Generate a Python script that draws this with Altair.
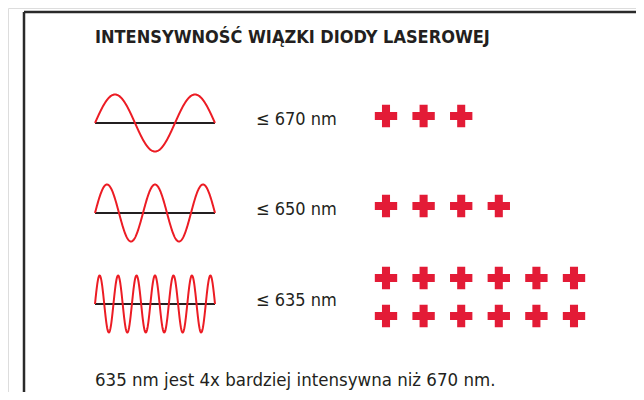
import altair as alt
import numpy as np
import pandas as pd

# ---- data ----
title_text = "INTENSYWNOŚĆ WIĄZKI DIODY LASEROWEJ"
footnote_text = "635 nm jest 4x bardziej intensywna niż 670 nm."
labels = ["≤ 670 nm", "≤ 650 nm", "≤ 635 nm"]
wave_cycles = [1.5, 2.5, 6.5]
plus_counts = [3, 4, 12]

# ---- layout (image pixel coordinates) ----
X0, X1, Y0, Y1 = 8, 636, 8, 392
row_y = [123, 213, 304]
wave_x0, wave_x1, amp = 95, 215, 28.5
label_x = 256
plus_x0, plus_dx, per_row = 386, 37.6, 6
RED_WAVE = "#ec1c24"
RED_PLUS = "#e31b36"
FONT = "Liberation Sans Narrow, DejaVu Sans Condensed, Roboto"

# wave curves
wrows = []
for i, (cyc, y0) in enumerate(zip(wave_cycles, row_y)):
    xs = np.linspace(0, 1, 400)
    for t in xs:
        wrows.append({"row": i, "x": wave_x0 + t * (wave_x1 - wave_x0),
                      "y": y0 - amp * np.sin(2 * np.pi * cyc * t)})
waves = pd.DataFrame(wrows)

base = pd.DataFrame({"row": range(3), "x": wave_x0, "x2": wave_x1, "y": row_y})

lab = pd.DataFrame({"label": labels, "x": label_x, "y": [y + 2 for y in row_y]})

prows = []
for i, (n, y0) in enumerate(zip(plus_counts, row_y)):
    nrows = int(np.ceil(n / per_row))
    for k in range(n):
        r, c = divmod(k, per_row)
        if nrows == 1:
            yc = y0 - 7
        else:
            yc = y0 - 7 + (r - (nrows - 1) / 2) * 38
        prows.append({"x": plus_x0 + c * plus_dx, "y": yc})
plus = pd.DataFrame(prows)

xs = alt.Scale(domain=[X0, X1], nice=False, zero=False)
ys = alt.Scale(domain=[Y0, Y1], nice=False, zero=False, reverse=True)
X = lambda f: alt.X(f, type="quantitative", scale=xs, axis=None)
Y = lambda f: alt.Y(f, type="quantitative", scale=ys, axis=None)

border = pd.DataFrame({"x": [24, 24], "x2": [24, 700], "y": [12, 12], "y2": [420, 12]})
border_l = alt.Chart(border).mark_rule(color="#2a2a2a", strokeWidth=2.5, clip=True).encode(
    x=X("x"), x2="x2", y=Y("y"), y2="y2")

wave_l = alt.Chart(waves).mark_line(color=RED_WAVE, strokeWidth=2).encode(
    x=X("x"), y=Y("y"), detail="row:N")
base_l = alt.Chart(base).mark_rule(color="#231f20", strokeWidth=2).encode(
    x=X("x"), x2="x2", y=Y("y"))
lab_l = alt.Chart(lab).mark_text(align="left", baseline="alphabetic", font=FONT,
                                 fontSize=18, color="#231f20").encode(
    x=X("x"), y=Y("y"), text="label:N")

cross = ("M-0.36,-1 L0.36,-1 L0.36,-0.36 L1,-0.36 L1,0.36 L0.36,0.36 L0.36,1 "
         "L-0.36,1 L-0.36,0.36 L-1,0.36 L-1,-0.36 L-0.36,-0.36 Z")
plus_l = alt.Chart(plus).mark_point(shape=cross, filled=True, size=500, opacity=1,
                                    color=RED_PLUS, strokeWidth=0).encode(
    x=X("x"), y=Y("y"))

title_df = pd.DataFrame({"t": [title_text], "x": [95], "y": [43]})
title_l = alt.Chart(title_df).mark_text(align="left", baseline="alphabetic", font=FONT,
                                        fontSize=18, fontWeight="bold", color="#231f20").encode(
    x=X("x"), y=Y("y"), text="t:N")
foot_df = pd.DataFrame({"t": [footnote_text], "x": [95], "y": [386]})
foot_l = alt.Chart(foot_df).mark_text(align="left", baseline="alphabetic", font=FONT,
                                      fontSize=18.5, color="#231f20").encode(
    x=X("x"), y=Y("y"), text="t:N")

chart = alt.layer(border_l, base_l, wave_l, lab_l, plus_l, title_l, foot_l).properties(
    width=X1 - X0, height=Y1 - Y0, padding=0,
    autosize=alt.AutoSizeParams(type="none"),
).configure_view(stroke=None).configure(background="white")

chart.save("out.html", embed_options={"renderer": "svg", "actions": False})
